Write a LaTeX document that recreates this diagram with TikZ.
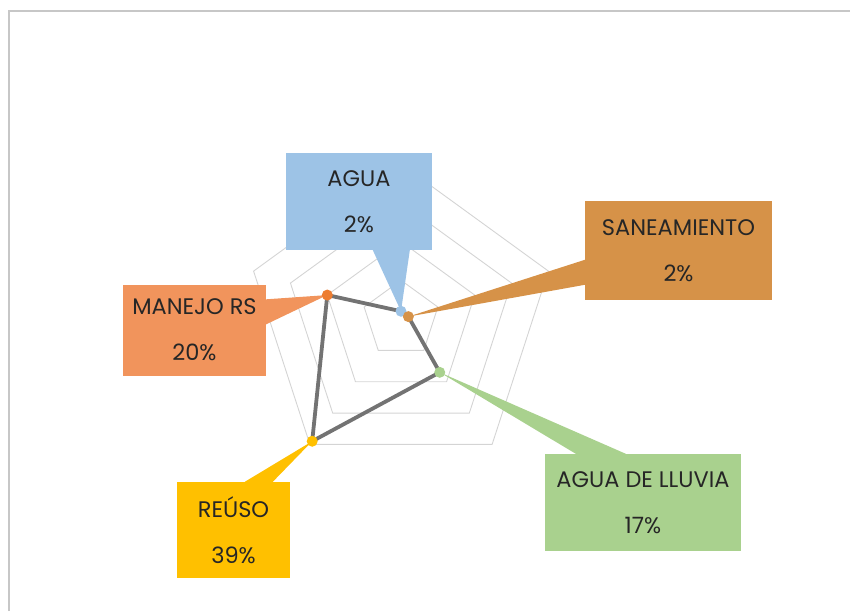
\documentclass[tikz,border=0pt]{standalone}
\usepackage{fontspec}
\setmainfont{Poppins}
\usepackage{xcolor}
\usepackage{tikz}
\usetikzlibrary{calc,positioning}
\definecolor{cAgua}{RGB}{157,195,230}
\definecolor{cSanea}{RGB}{214,146,72}
\definecolor{cManejoBox}{RGB}{241,148,92}
\definecolor{cManejo}{RGB}{237,125,49}
\definecolor{cReuso}{RGB}{255,192,0}
\definecolor{cLluvia}{RGB}{169,209,142}

\begin{document}
\begin{tikzpicture}[x=1pt,y=-1pt,
    ringline/.style={draw=black!17, line width=0.9pt},
    dataline/.style={draw=black!55, line width=3.8pt, line join=round},
    dot/.style={circle, inner sep=0pt, minimum size=11pt},
    labelbox/.style={inner sep=0pt, text=black!85, align=center, font=\fontsize{22.5}{46}\selectfont}]
    \useasboundingbox (0,0) rectangle (850,611);
    \draw[black!22, line width=1.5pt] (9,611) |- (850,11);
    % radar, 4 rings of 10%
    \begin{scope}[shift={(401,319)}]
        \foreach \r in {1,...,4}
            \draw[ringline] (-90:{\r*38.75}) -- (-18:{\r*38.75}) -- (54:{\r*38.75}) -- (126:{\r*38.75}) -- (198:{\r*38.75}) -- cycle;
        \coordinate (pAgua) at (-90:7.75);
        \coordinate (pSanea) at (-18:7.75);
        \coordinate (pLluvia) at (54:65.9);
        \coordinate (pReuso) at (126:151.1);
        \coordinate (pManejo) at (198:77.5);
    \end{scope}
    \draw[dataline] (pAgua) -- (pSanea) -- (pLluvia) -- (pReuso) -- (pManejo) -- cycle;
    % labels
    \node[labelbox, fill=cAgua, minimum width=146pt, minimum height=97pt] (agua) at (359,201.5) {AGUA\\2\%};
    \fill[cAgua] ($(agua.south west)+(87,0)$) -- (pAgua) -- ($(agua.south west)+(124,0)$) -- cycle;
    \node[labelbox, fill=cSanea, minimum width=187pt, minimum height=99pt] (sanea) at (678.5,250.5) {SANEAMIENTO\\2\%};
    \fill[cSanea] ($(sanea.north west)+(0,59)$) -- (pSanea) -- ($(sanea.north west)+(0,84)$) -- cycle;
    \node[labelbox, fill=cManejoBox, minimum width=143pt, minimum height=91pt] (manejo) at (194.5,330) {MANEJO RS\\20\%};
    \fill[cManejoBox] ($(manejo.north east)+(0,15)$) -- (pManejo) -- ($(manejo.north east)+(0,40)$) -- cycle;
    \node[labelbox, fill=cReuso, minimum width=113pt, minimum height=96pt] (reuso) at (233.5,530) {REÚSO\\39\%};
    \fill[cReuso] ($(reuso.north west)+(68,0)$) -- (pReuso) -- ($(reuso.north west)+(96,0)$) -- cycle;
    \node[labelbox, fill=cLluvia, minimum width=196pt, minimum height=97pt] (lluvia) at (643,502.5) {AGUA DE LLUVIA\\17\%};
    \fill[cLluvia] ($(lluvia.north west)+(31,0)$) -- (pLluvia) -- ($(lluvia.north west)+(81,0)$) -- cycle;
    % markers
    \node[dot, fill=cAgua] (mAgua) at (pAgua) {};
    \node[dot, fill=cSanea] (mSanea) at (pSanea) {};
    \node[dot, fill=cLluvia] (mLluvia) at (pLluvia) {};
    \node[dot, fill=cReuso] (mReuso) at (pReuso) {};
    \node[dot, fill=cManejo] (mManejo) at (pManejo) {};
\end{tikzpicture}
\end{document}
